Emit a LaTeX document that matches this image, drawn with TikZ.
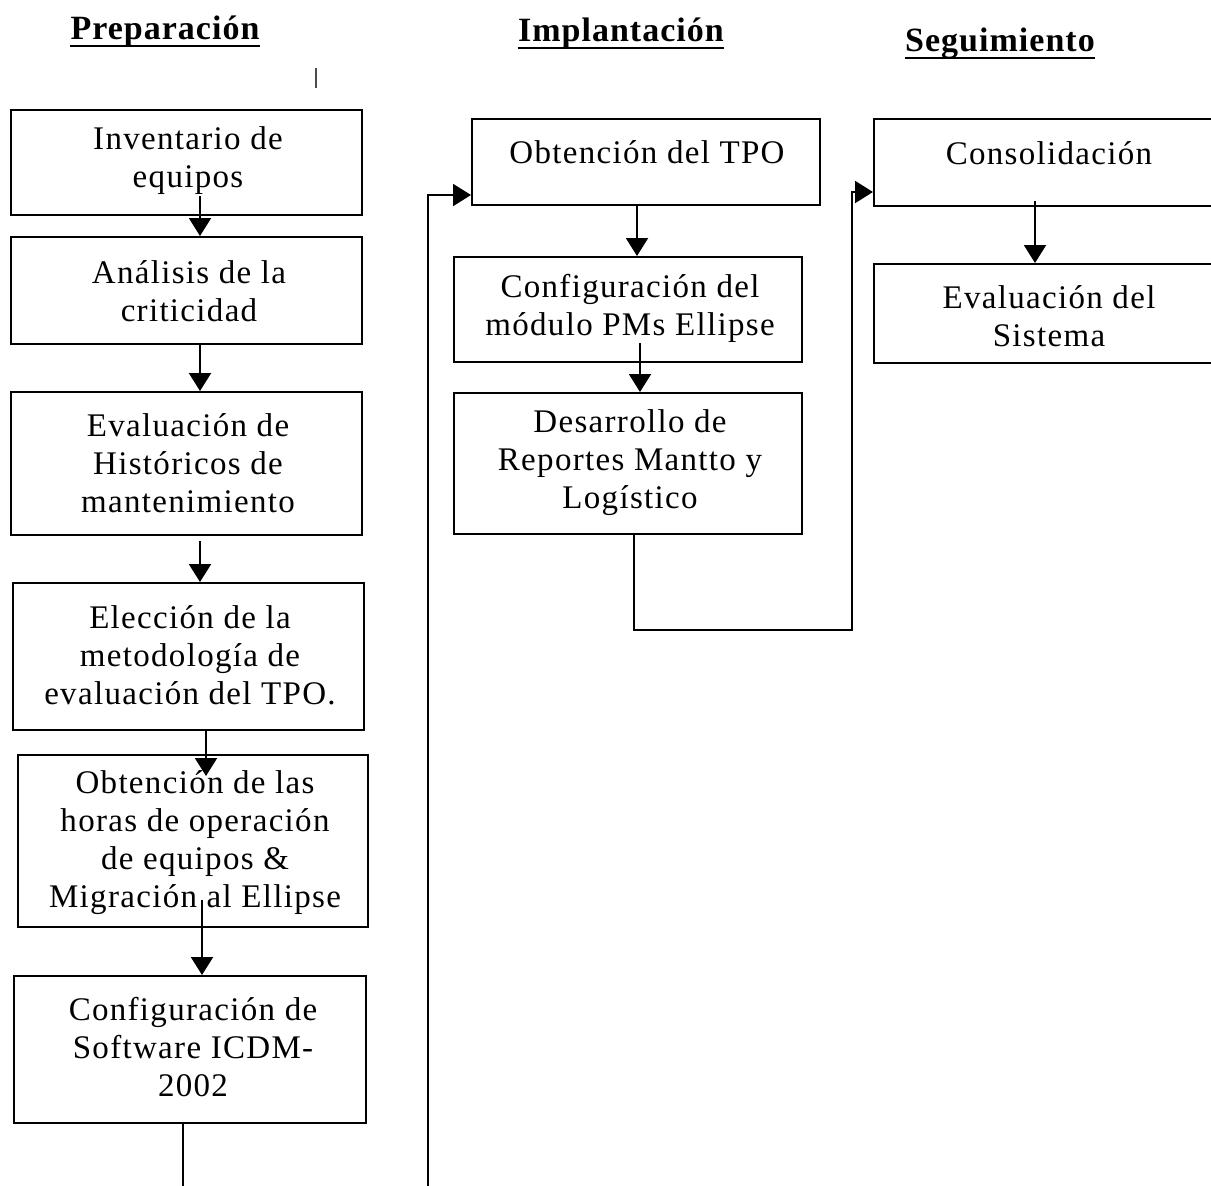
\documentclass[tikz,border=0pt]{standalone}
\usepackage{fontspec}
\setmainfont{Liberation Serif}
\newfontfamily\boxfont[LetterSpace=4]{Liberation Serif}
\newfontfamily\headfont[LetterSpace=3]{Liberation Serif}
\usetikzlibrary{arrows.meta,fit}
\begin{document}
\begin{tikzpicture}[x=0.5pt,y=-0.5pt,
  box/.style={draw, line width=1pt, inner sep=0pt},
  txt/.style={align=center, font=\boxfont\fontsize{16.5}{19}\selectfont, inner sep=0pt},
  head/.style={font=\headfont\fontsize{17}{20}\selectfont\bfseries, inner sep=0pt, anchor=base},
  flow/.style={line width=1pt, -{Triangle[length=9pt,width=11pt]}},
  rule/.style={line width=1pt}]
\useasboundingbox (0,0) rectangle (1211,1185);
\clip (0,0) rectangle (1211,1185);

% phase headings
\node[head] (h1) at (165,39) {Preparación};
\node[head] (h2) at (621,41) {Implantación};
\node[head] (h3) at (1000,51) {Seguimiento};
\foreach \h in {h1,h2,h3}
  \draw[rule] ([yshift=-3.5pt]\h.base west) -- ([yshift=-3.5pt]\h.base east);

% small mark near the first column
\draw[line width=1pt, black!70] (316,68) -- (316,88);

% column 1: preparation
\node[box, fit={(11,110)(362,215)}] (b1) {};
\node[box, fit={(11,237)(362,344)}] (b2) {};
\node[box, fit={(11,392)(362,535)}] (b3) {};
\node[box, fit={(13,583)(364,730)}] (b4) {};
\node[box, fit={(18,755)(368,927)}] (b5) {};
\node[box, fit={(14,976)(366,1123)}] (b6) {};
% column 2: implementation
\node[box, fit={(472,119)(820,205)}] (b7) {};
\node[box, fit={(454,257)(802,362)}] (b8) {};
\node[box, fit={(454,393)(802,534)}] (b9) {};
% column 3: follow-up
\node[box, fit={(874,119)(1216,206)}] (b10) {};
\node[box, fit={(874,264)(1216,363)}] (b11) {};

\node[txt] (t1) at (188,161) {Inventario de\\equipos};
\node[txt] (t2) at (189,291) {Análisis de la\\criticidad};
\node[txt] (t3) at (188,463) {Evaluación de\\Históricos de\\mantenimiento};
\node[txt] (t4) at (190,655) {Elección de la\\metodología de\\evaluación del TPO.};
\node[txt] (t5) at (195,843) {Obtención de las\\horas de operación\\de equipos \&\\Migración al Ellipse};
\node[txt] (t6) at (193,1047) {Configuración de\\Software ICDM-\\2002};
\node[txt] (t7) at (647,152) {Obtención del TPO};
\node[txt] (t8) at (630,308) {Configuración del\\módulo PMs Ellipse};
\node[txt] (t9) at (630,463) {Desarrollo de\\Reportes Mantto y\\Logístico};
\node[txt] (t10) at (1049,153) {Consolidación};
\node[txt] (t11) at (1049,316) {Evaluación del\\Sistema};

% guide coordinates for the connectors
\coordinate (x183) at (183,0);
\coordinate (x200) at (200,0);
\coordinate (x202) at (202,0);
\coordinate (x206) at (206,0);
\coordinate (x428) at (428,0);
\coordinate (x634) at (634,0);
\coordinate (x637) at (637,0);
\coordinate (x640) at (640,0);
\coordinate (x852) at (852,0);
\coordinate (x1035) at (1035,0);
\coordinate (y192) at (0,192);
\coordinate (y195) at (0,195);
\coordinate (y630) at (0,630);
\coordinate (low) at (0,1240);

% connectors
\draw[flow] ([yshift=10pt]b1.south -| x200) -- (b2.north -| x200);
\draw[flow] (b2.south -| x200) -- (b3.north -| x200);
\draw[flow] ([yshift=-2.5pt]b3.south -| x200) -- (b4.north -| x200);
\draw[flow] (b4.south -| x206) -- ([yshift=-11pt]b5.north -| x206);
\draw[flow] ([yshift=14pt]b5.south -| x202) -- (b6.north -| x202);
\draw[flow] (b6.south -| x183) |- (low -| x428) |- (b7.west |- y195);
\draw[flow] (b7.south -| x637) -- (b8.north -| x637);
\draw[flow] ([yshift=10pt]b8.south -| x640) -- (b9.north -| x640);
\draw[flow] (b9.south -| x634) |- (y630 -| x852) |- (b10.west |- y192);
\draw[flow] ([yshift=3pt]b10.south -| x1035) -- (b11.north -| x1035);
\end{tikzpicture}
\end{document}
